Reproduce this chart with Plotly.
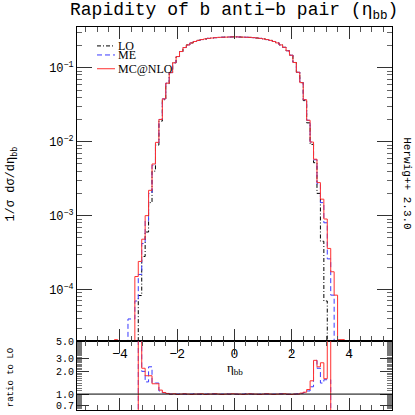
import plotly.graph_objects as go
from plotly.subplots import make_subplots

# histogram bin edges (width 0.12)
eta_edges = [-4.20, -4.08, -3.96, -3.84, -3.72, -3.60, -3.48, -3.36, -3.24, -3.12,
             -3.00, -2.88, -2.76, -2.64, -2.52, -2.40, -2.28, -2.16, -2.04, -1.92,
             -1.80, -1.68, -1.56, -1.44, -1.32, -1.20, -1.08, -0.96, -0.84, -0.72,
             -0.60, -0.48, -0.36, -0.24, -0.12, 0.00, 0.12, 0.24, 0.36, 0.48,
             0.60, 0.72, 0.84, 0.96, 1.08, 1.20, 1.32, 1.44, 1.56, 1.68,
             1.80, 1.92, 2.04, 2.16, 2.28, 2.40, 2.52, 2.64, 2.76, 2.88,
             3.00, 3.12, 3.24, 3.36, 3.48, 3.60, 3.72, 3.84, 3.96, 4.08, 4.20]

lo = [0, 0, 0, 0, 0, 0, 0, 8.3e-5, 2.8e-4, 6.0e-4,
      1.5e-3, 4.0e-3, 9.0e-3, 0.019, 0.037, 0.061, 0.086, 0.117, 0.142, 0.166,
      0.188, 0.204, 0.217, 0.227, 0.235, 0.241, 0.246, 0.250, 0.253, 0.256,
      0.258, 0.259, 0.260, 0.261, 0.262, 0.262, 0.261, 0.260, 0.259, 0.258,
      0.256, 0.253, 0.250, 0.246, 0.241, 0.235, 0.227, 0.217, 0.204, 0.189,
      0.170, 0.148, 0.118, 0.087, 0.063, 0.036, 0.018, 0.0092, 0.0052, 2.0e-3,
      4.5e-4, 7.0e-5, 0, 0, 0, 0, 0, 0, 0, 0]

me = [0, 0, 0, 0, 4.0e-5, 4.0e-5, 7.0e-5, 1.6e-4, 4.2e-4, 8.5e-4,
      2.0e-3, 4.8e-3, 9.7e-3, 0.020, 0.038, 0.062, 0.086, 0.117, 0.142, 0.166,
      0.188, 0.204, 0.217, 0.227, 0.235, 0.241, 0.246, 0.250, 0.253, 0.256,
      0.258, 0.259, 0.260, 0.261, 0.262, 0.262, 0.261, 0.260, 0.259, 0.258,
      0.256, 0.253, 0.250, 0.246, 0.241, 0.235, 0.227, 0.217, 0.204, 0.189,
      0.170, 0.148, 0.118, 0.087, 0.063, 0.037, 0.0195, 0.0099, 0.0057, 2.7e-3,
      1.5e-3, 8.0e-4, 2.6e-4, 8.4e-5, 0, 0, 0, 0, 0, 0]

mcnlo = [2.1e-5, 0, 0, 0, 0, 0, 1.5e-4, 2.4e-4, 4.8e-4, 1.0e-3,
         2.2e-3, 5.0e-3, 9.8e-3, 0.020, 0.038, 0.062, 0.086, 0.117, 0.142, 0.166,
         0.188, 0.204, 0.217, 0.227, 0.235, 0.241, 0.246, 0.250, 0.253, 0.256,
         0.258, 0.259, 0.260, 0.261, 0.262, 0.262, 0.261, 0.260, 0.259, 0.258,
         0.256, 0.253, 0.250, 0.246, 0.241, 0.235, 0.227, 0.217, 0.204, 0.189,
         0.170, 0.148, 0.118, 0.087, 0.063, 0.037, 0.0195, 0.0099, 0.0058, 2.8e-3,
         1.67e-3, 9.0e-4, 3.6e-4, 1.74e-4, 8.4e-5, 2.1e-5, 2.1e-5, 0, 0, 0]

ratio_me = [0, 0, 0, 0, 0, 0, 0, 6.0, 2.0, 1.45,
            2.3, 1.4, 1.4, 1.1, 1.04, 1.02, 1.0, 0.99, 1.0, 1.01,
            1.0, 0.99, 1.0, 1.01, 1.0, 0.99, 1.0, 1.0, 1.01, 1.0,
            0.99, 1.0, 1.01, 1.0, 1.0, 1.0, 0.99, 1.0, 1.01, 1.0,
            1.0, 0.99, 1.0, 1.01, 1.0, 0.99, 1.0, 1.0, 1.01, 1.0,
            0.99, 1.0, 1.0, 1.01, 1.02, 1.05, 1.1, 1.25, 2.8, 2.2,
            1.4, 1.55, 1.55, 0, 0, 0, 0, 0, 0, 0]

ratio_mcnlo = [0, 0, 0, 0, 0, 0, 0, 6.0, 2.2, 1.75,
               1.75, 1.37, 1.37, 1.13, 1.05, 1.02, 1.0, 1.01, 0.99, 1.0,
               1.01, 1.0, 0.99, 1.0, 1.0, 1.01, 0.99, 1.0, 1.0, 1.01,
               1.0, 0.99, 1.0, 1.0, 1.01, 1.0, 1.0, 0.99, 1.0, 1.01,
               1.0, 1.0, 0.99, 1.0, 1.01, 1.0, 0.99, 1.0, 1.0, 1.01,
               1.0, 0.99, 1.0, 1.0, 1.03, 1.06, 1.15, 1.5, 2.8, 2.3,
               2.6, 1.6, 6.0, 0, 0, 0, 0, 0, 0, 0]

FLOOR = 1e-9  # empty bins drawn below the axis


def steps(vals):
    y = [v if v > 0 else FLOOR for v in vals]
    return y + [y[-1]]


MONO = "Liberation Mono"
SERIF = "Liberation Serif"
LO_DASH = "4px,2px,1px,2px"
ME_DASH = "5px,3px"
LO_COL, ME_COL, MC_COL = "black", "#3a3aff", "#ff3030"

fig = make_subplots(rows=2, cols=1, shared_xaxes=True, vertical_spacing=0)

styles = [("LO", lo, None, LO_COL, LO_DASH),
          ("ME", me, ratio_me, ME_COL, ME_DASH),
          ("MC@NLO", mcnlo, ratio_mcnlo, MC_COL, "solid")]

for name, vals, rat, col, dash in styles:
    fig.add_trace(go.Scatter(x=eta_edges, y=steps(vals), mode="lines", line_shape="hv",
                             line=dict(color=col, width=1, dash=dash), name=name,
                             showlegend=False), row=1, col=1)
    if rat is not None:
        fig.add_trace(go.Scatter(x=eta_edges, y=steps(rat), mode="lines", line_shape="hv",
                                 line=dict(color=col, width=1, dash=dash), name=name,
                                 showlegend=False), row=2, col=1)

fig.add_shape(type="line", xref="x2 domain", yref="y2", x0=0, x1=1, y0=1, y1=1,
              line=dict(color="black", width=1))

# axes
xcommon = dict(range=[-5.5, 5.5], tickvals=[-4, -2, 0, 2, 4], ticks="inside", ticklen=12,
               tickcolor="#333", showline=True, linecolor="black", linewidth=1,
               mirror="allticks", showgrid=False, zeroline=False,
               minor=dict(dtick=0.4, tick0=0, ticks="inside", ticklen=5, tickcolor="#555"))
fig.update_xaxes(**xcommon)
fig.update_xaxes(row=1, col=1, showticklabels=True, tickfont=dict(family=MONO, size=13, color="black"))
fig.update_xaxes(row=2, col=1, showticklabels=False)

main_minor = [m * 10 ** e for e in range(-5, 0) for m in range(2, 10)]
fig.update_yaxes(row=1, col=1, type="log", range=[-4.701, -0.448], domain=[69 / 385, 1],
                 tickvals=[1e-4, 1e-3, 1e-2, 1e-1],
                 ticktext=["10<sup>−4</sup>", "10<sup>−3</sup>", "10<sup>−2</sup>", "10<sup>−1</sup>"],
                 tickfont=dict(family=MONO, size=12, color="black"),
                 ticks="inside", ticklen=15, tickcolor="#333", showline=True, linecolor="black",
                 mirror="allticks", showgrid=False, zeroline=False,
                 minor=dict(tickvals=main_minor, ticks="inside", ticklen=5, tickcolor="#666"))

ratio_minor = [round(0.62 + 0.02 * k, 2) for k in range(19)] + [round(1.0 + 0.1 * k, 1) for k in range(41)]
fig.update_yaxes(row=2, col=1, type="log", range=[-0.211, 0.699], domain=[0, 69 / 385],
                 tickvals=[0.7, 1, 2, 3, 5], ticktext=["0.7", "1.0", "2.0", "3.0", "5.0"],
                 tickfont=dict(family=MONO, size=10, color="black"),
                 ticks="inside", ticklen=12, tickcolor="#333", showline=True, linecolor="black",
                 mirror="allticks", showgrid=False, zeroline=False,
                 minor=dict(tickvals=ratio_minor, ticks="inside", ticklen=5, tickcolor="#777"))

# legend drawn by hand
leg = [("LO", 0.9506, LO_COL, LO_DASH),
       ("ME", 0.927, ME_COL, ME_DASH),
       ("MC@NLO", 0.891, MC_COL, "solid")]
for txt, yy, col, dash in leg:
    fig.add_shape(type="line", xref="paper", yref="paper", x0=0.0635, x1=0.1206, y0=yy, y1=yy,
                  line=dict(color=col, width=1, dash=dash))
    fig.add_annotation(x=0.124, y=yy, xref="paper", yref="paper", text=txt, showarrow=False,
                       xanchor="left", yanchor="middle", font=dict(family=SERIF, size=12, color="black"))


def label(x, y, text, font, angle=0):
    fig.add_annotation(x=x, y=y, xref="paper", yref="paper", showarrow=False, text=text,
                       textangle=angle, xanchor="center", yanchor="middle", font=font)


label(0.498, 1.0416, "Rapidity of b anti−b pair (η<sub>bb</sub>)", dict(family=MONO, size=18, color="black"))
label(0.5016, 0.109, "η<sub>bb</sub>", dict(family=SERIF, size=13, color="black"))
label(-0.205, 0.5896, "1/σ dσ/dη<sub>bb</sub>", dict(family=MONO, size=12, color="black"), -90)
label(-0.2095, 0.083, "ratio to LO", dict(family=MONO, size=9, color="black"), -90)
label(1.0476, 0.592, "Herwig++ 2.3.0", dict(family=MONO, size=11, color="black"), 90)

fig.update_layout(width=415, height=415, margin=dict(l=77, r=23, t=27, b=3),
                  paper_bgcolor="white", plot_bgcolor="white", showlegend=False)

# drop the default 8px page margin so the figure fills the window
fig.write_html("out.html", config={"displayModeBar": False},
               post_script="document.body.style.margin = '0px';")
